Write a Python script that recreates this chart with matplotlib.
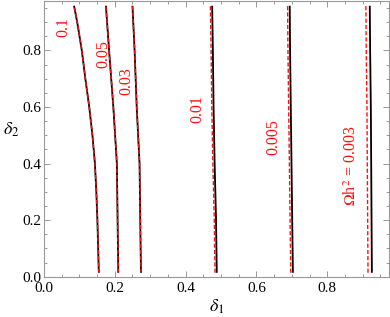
import matplotlib
matplotlib.use("Agg")
import matplotlib.pyplot as plt
from matplotlib.ticker import MultipleLocator

plt.rcParams['font.family'] = ['Liberation Serif', 'DejaVu Serif']
plt.rcParams['mathtext.fontset'] = 'stix'

# delta2 sample points
y_fine = [0.014, 0.2, 0.3, 0.4, 0.5, 0.6, 0.7, 0.8, 0.9, 0.958]
y_std = [0.014, 0.2, 0.4, 0.6, 0.8, 0.958]

levels = ["0.1", "0.05", "0.03", "0.01", "0.005", "0.003"]

# delta1 values along each contour (black = full, red dashed = approx)
black_01 = [0.155, 0.151, 0.148, 0.144, 0.137, 0.128, 0.117, 0.107, 0.094, 0.085]
red_01 = [0.155, 0.151, 0.148, 0.144, 0.137, 0.128, 0.117, 0.107, 0.094, 0.085]
black_005 = [0.210, 0.208, 0.206, 0.196, 0.184, 0.175]
red_005 = [0.210, 0.208, 0.206, 0.196, 0.184, 0.175]
black_003 = [0.274, 0.272, 0.270, 0.262, 0.256, 0.250]
red_003 = [0.274, 0.272, 0.270, 0.262, 0.256, 0.250]
black_0010 = [0.488, 0.486, 0.482, 0.479, 0.477, 0.475]
red_0010 = [0.483, 0.481, 0.477, 0.474, 0.472, 0.470]
black_0005 = [0.703, 0.701, 0.699, 0.697, 0.695, 0.694]
red_0005 = [0.697, 0.695, 0.693, 0.691, 0.689, 0.688]
black_0003 = [0.926, 0.925, 0.924, 0.923, 0.921, 0.920]
red_0003 = [0.915, 0.914, 0.913, 0.912, 0.910, 0.909]

curves = [
    (y_fine, black_01, red_01),
    (y_std, black_005, red_005),
    (y_std, black_003, red_003),
    (y_std, black_0010, red_0010),
    (y_std, black_0005, red_0005),
    (y_std, black_0003, red_0003),
]

label_text = ["0.1", "0.05", "0.03", "0.01", "0.005", r"$\Omega$h$^2$ = 0.003"]
label_x = [0.054, 0.168, 0.234, 0.434, 0.649, 0.870]
label_y = [0.881, 0.788, 0.690, 0.594, 0.494, 0.394]

fig = plt.figure(figsize=(3.9, 3.17), dpi=100)
ax = fig.add_axes([0.1126, 0.127, 0.8855, 0.870])

for ys, xb, xr in curves:
    ax.plot(xb, ys, color='black', lw=1.3, solid_capstyle='butt')
    ax.plot(xr, ys, color='#ff1010', lw=1.0, ls=(0, (3, 1.5)))

for t, x, y in zip(label_text, label_x, label_y):
    ax.text(x, y, t, color='#ff1010', rotation=90, ha='center', va='center',
            fontsize=11.5)

ax.set_xlim(0, 0.975)
ax.set_ylim(0, 0.975)
ax.xaxis.set_major_locator(MultipleLocator(0.2))
ax.xaxis.set_minor_locator(MultipleLocator(0.05))
ax.yaxis.set_major_locator(MultipleLocator(0.2))
ax.yaxis.set_minor_locator(MultipleLocator(0.05))
ax.xaxis.set_major_formatter(plt.FuncFormatter(lambda v, p: f"{v:.1f}"))
ax.yaxis.set_major_formatter(plt.FuncFormatter(lambda v, p: f"{v:.1f}"))

fc = '#999999'
for s in ax.spines.values():
    s.set_color(fc)
    s.set_linewidth(0.8)
ax.tick_params(which='both', direction='in', top=True, right=True,
               color=fc, labelsize=11, labelcolor='black', width=0.7)
ax.tick_params(which='major', length=4)
ax.tick_params(axis='x', which='major', pad=3.5)
ax.tick_params(axis='y', which='major', pad=2)
ax.tick_params(which='minor', length=2.2)

ax.set_xlabel(r"$\delta_1$", fontsize=13, labelpad=2)
ax.set_ylabel(r"$\delta_2$", fontsize=13, rotation=0, labelpad=6)
ax.yaxis.set_label_coords(-0.095, 0.5)

fig.savefig("out.png", dpi=100)
